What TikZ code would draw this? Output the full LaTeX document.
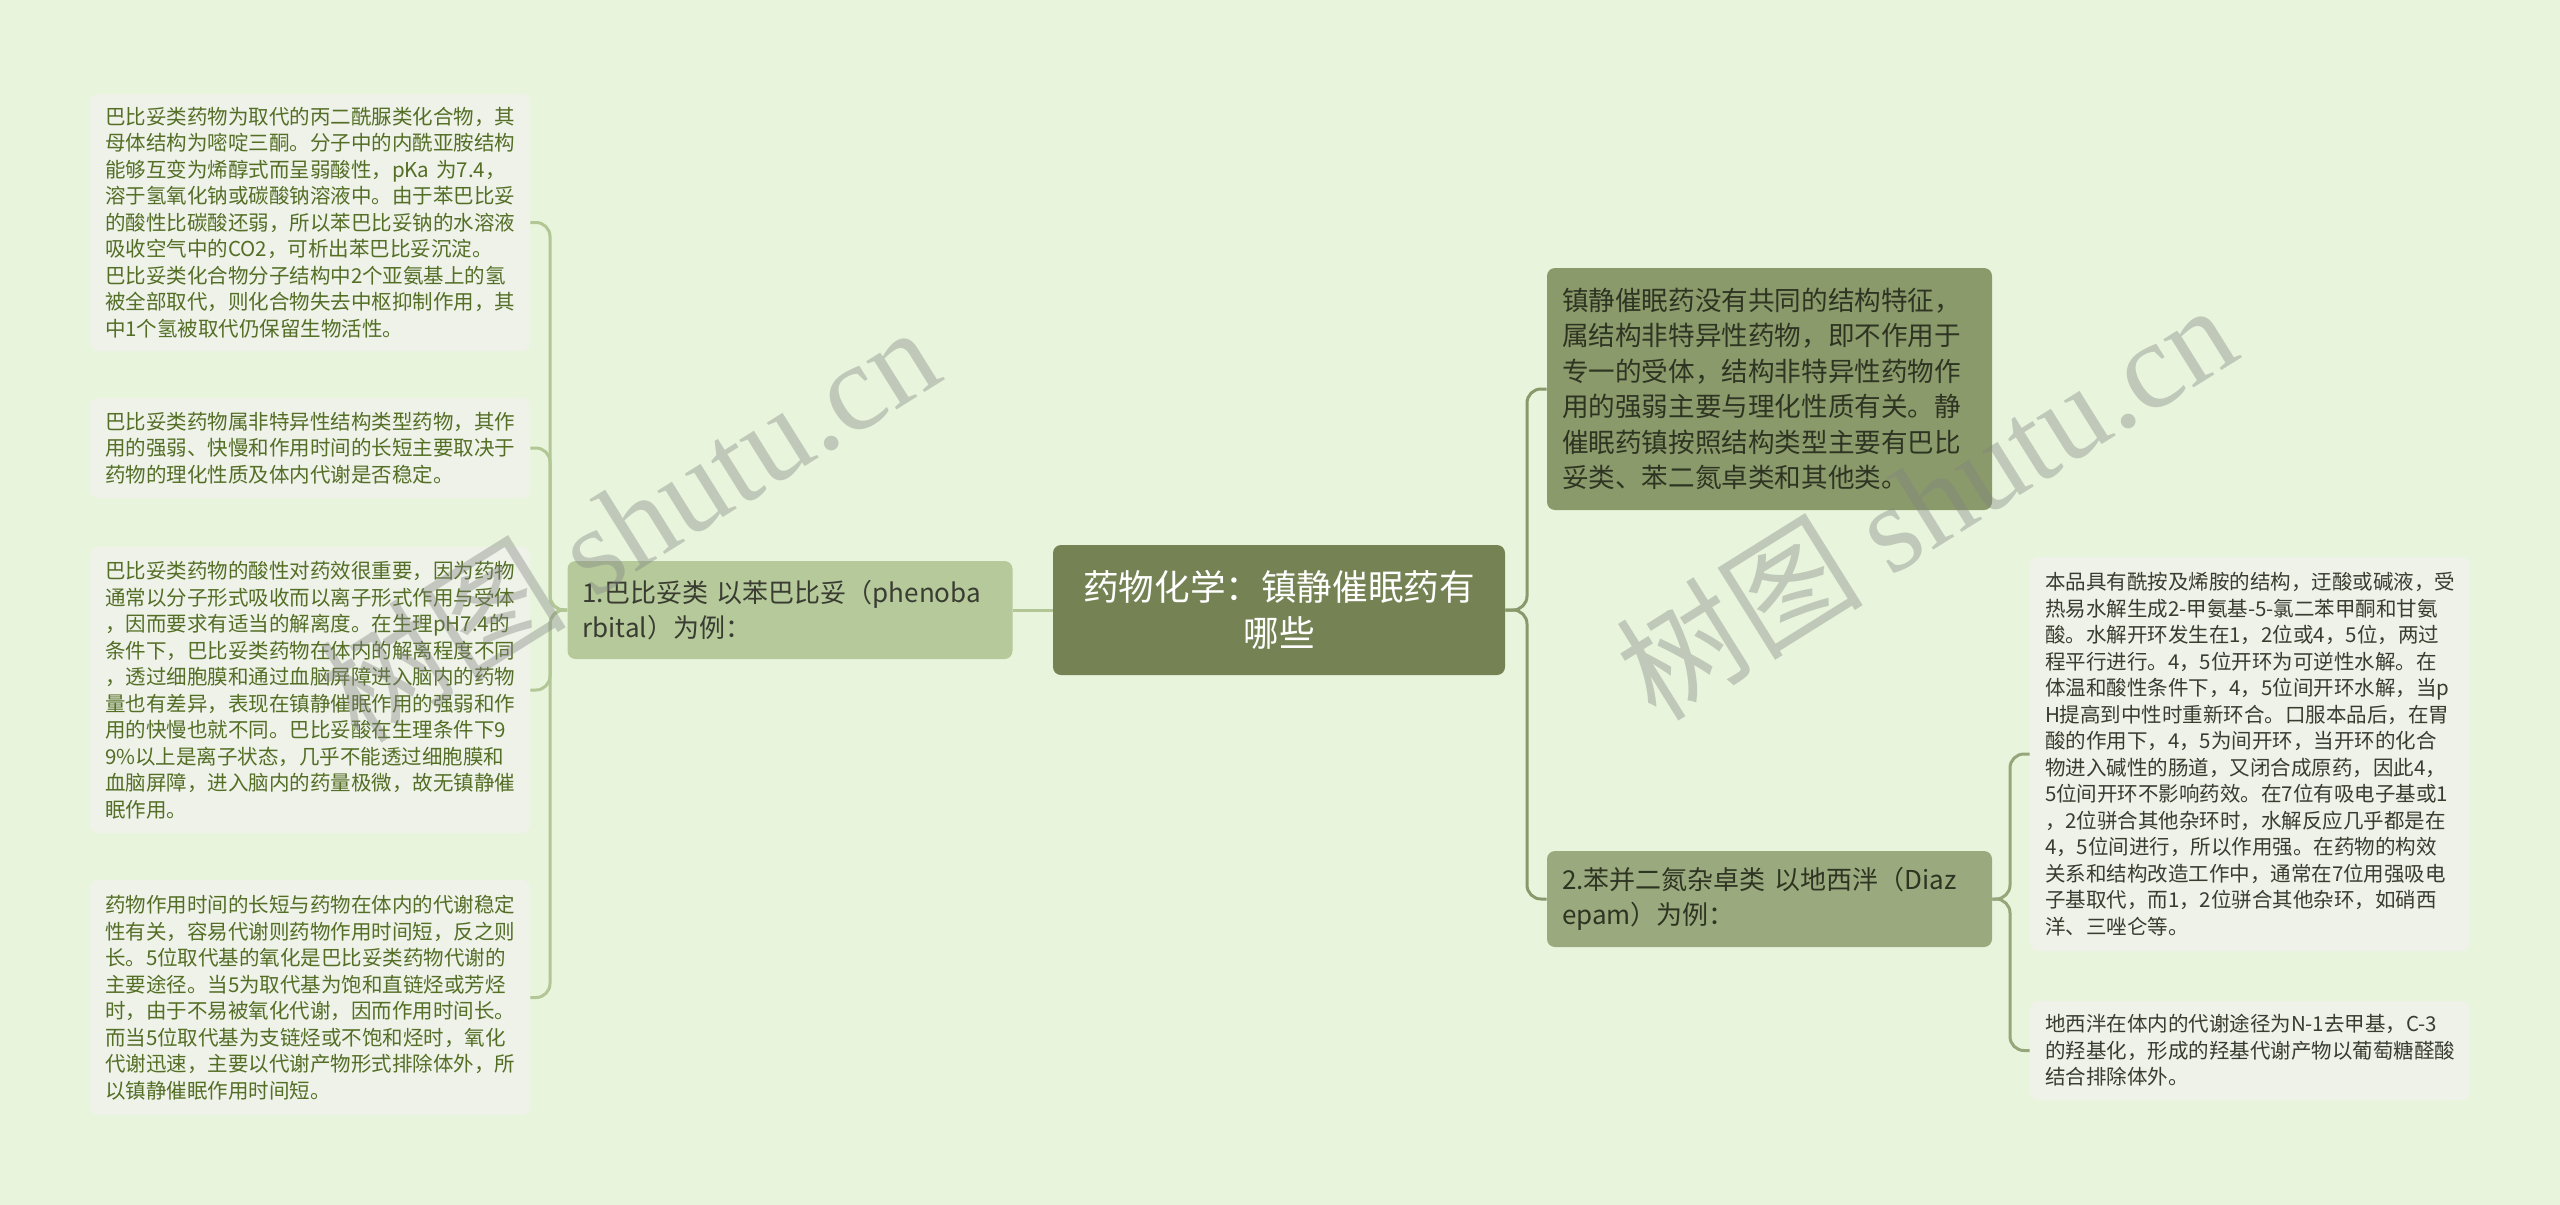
\documentclass[tikz,border=0pt]{standalone}
\usepackage{fontspec}
\setmainfont{Noto Sans CJK SC}
\newfontfamily\wmlat{Liberation Serif}
\definecolor{bgc}{RGB}{232,245,220}
\definecolor{leaffill}{RGB}{238,242,232}
\definecolor{lefttext}{RGB}{84,110,38}
\definecolor{righttext}{RGB}{58,60,48}
\definecolor{centerfill}{RGB}{116,130,84}
\definecolor{onefill}{RGB}{181,201,154}
\definecolor{trfill}{RGB}{139,154,107}
\definecolor{twofill}{RGB}{155,170,126}
\definecolor{darktext}{RGB}{46,52,34}
\definecolor{midtext}{RGB}{58,60,50}
\definecolor{leftline}{RGB}{178,198,150}
\definecolor{rightline}{RGB}{138,153,108}
\definecolor{twoline}{RGB}{150,166,122}
\tikzset{
  leaf/.style={fill=leaffill, rounded corners=4pt, text width=205pt, inner xsep=7.5pt, inner ysep=0pt, align=left, font=\fontsize{10.25pt}{13.25pt}\selectfont},
  leftleaf/.style={leaf, text=lefttext},
  rightleaf/.style={leaf, text=righttext},
  topic/.style={fill=centerfill, rounded corners=4pt, text=white, align=center, minimum width=226pt, minimum height=65pt, inner sep=0pt, font=\fontsize{17.8pt}{23pt}\selectfont},
  branch/.style={rounded corners=4pt, text width=207.5pt, inner xsep=7.5pt, inner ysep=0pt, align=left},
  conn/.style={line width=1.5pt, rounded corners=7pt},
  wm/.style={rotate=32, text=black!50, text opacity=0.38, inner sep=0pt}
}
\begin{document}
\begin{tikzpicture}[x=0.5pt,y=-0.5pt]
\fill[bgc] (0,0) rectangle (2560,1205);
\useasboundingbox (0,0) rectangle (2560,1205);

% center
\node[topic] (c) at (1279,610) {药物化学：镇静催眠药有\\哪些};

% branch 1
\node[branch, fill=onefill, text=midtext, minimum height=49pt, font=\fontsize{13pt}{17.75pt}\selectfont] (n1) at (790,610)
 {1.巴比妥类 以苯巴比妥（phenoba\\rbital）为例：};

% left leaves
\node[leftleaf, minimum height=128.5pt] (L1) at (310,222.5)
 {巴比妥类药物为取代的丙二酰脲类化合物，其\\母体结构为嘧啶三酮。分子中的内酰亚胺结构\\能够互变为烯醇式而呈弱酸性，pKa 为7.4，\\溶于氢氧化钠或碳酸钠溶液中。由于苯巴比妥\\的酸性比碳酸还弱，所以苯巴比妥钠的水溶液\\吸收空气中的CO2，可析出苯巴比妥沉淀。\\巴比妥类化合物分子结构中2个亚氨基上的氢\\被全部取代，则化合物失去中枢抑制作用，其\\中1个氢被取代仍保留生物活性。};
\node[leftleaf, minimum height=50pt] (L2) at (310,448)
 {巴比妥类药物属非特异性结构类型药物，其作\\用的强弱、快慢和作用时间的长短主要取决于\\药物的理化性质及体内代谢是否稳定。};
\node[leftleaf, minimum height=143pt] (L3) at (310,690)
 {巴比妥类药物的酸性对药效很重要，因为药物\\通常以分子形式吸收而以离子形式作用与受体\\，因而要求有适当的解离度。在生理pH7.4的\\条件下，巴比妥类药物在体内的解离程度不同\\，透过细胞膜和通过血脑屏障进入脑内的药物\\量也有差异，表现在镇静催眠作用的强弱和作\\用的快慢也就不同。巴比妥酸在生理条件下9\\9\%以上是离子状态，几乎不能透过细胞膜和\\血脑屏障，进入脑内的药量极微，故无镇静催\\眠作用。};
\node[leftleaf, minimum height=117.5pt] (L4) at (310,997.5)
 {药物作用时间的长短与药物在体内的代谢稳定\\性有关，容易代谢则药物作用时间短，反之则\\长。5位取代基的氧化是巴比妥类药物代谢的\\主要途径。当5为取代基为饱和直链烃或芳烃\\时，由于不易被氧化代谢，因而作用时间长。\\而当5位取代基为支链烃或不饱和烃时，氧化\\代谢迅速，主要以代谢产物形式排除体外，所\\以镇静催眠作用时间短。};

% right branches
\node[branch, fill=trfill, text=darktext, minimum height=121pt, font=\fontsize{13.3pt}{17.75pt}\selectfont] (tr) at (1769.5,389)
 {镇静催眠药没有共同的结构特征，\\属结构非特异性药物，即不作用于\\专一的受体，结构非特异性药物作\\用的强弱主要与理化性质有关。静\\催眠药镇按照结构类型主要有巴比\\妥类、苯二氮卓类和其他类。};
\node[branch, fill=twofill, text=darktext, minimum height=48pt, font=\fontsize{13pt}{17.75pt}\selectfont] (n2) at (1769.5,899)
 {2.苯并二氮杂卓类 以地西泮（Diaz\\epam）为例：};

% right leaves
\node[rightleaf, minimum height=197pt] (R1) at (2250,754)
 {本品具有酰按及烯胺的结构，迂酸或碱液，受\\热易水解生成2-甲氨基-5-氯二苯甲酮和甘氨\\酸。水解开环发生在1，2位或4，5位，两过\\程平行进行。4，5位开环为可逆性水解。在\\体温和酸性条件下，4，5位间开环水解，当p\\H提高到中性时重新环合。口服本品后，在胃\\酸的作用下，4，5为间开环，当开环的化合\\物进入碱性的肠道，又闭合成原药，因此4，\\5位间开环不影响药效。在7位有吸电子基或1\\，2位骈合其他杂环时，水解反应几乎都是在\\4，5位间进行，所以作用强。在药物的构效\\关系和结构改造工作中，通常在7位用强吸电\\子基取代，而1，2位骈合其他杂环，如硝西\\洋、三唑仑等。};
\node[rightleaf, minimum height=49.5pt] (R2) at (2250,1050.5)
 {地西泮在体内的代谢途径为N-1去甲基，C-3\\的羟基化，形成的羟基代谢产物以葡萄糖醛酸\\结合排除体外。};

% trunks
\coordinate (lt) at (550,610);
\coordinate (rt) at (1527,610);
\coordinate (r2t) at (2010,899);

% connectors
\draw[conn, leftline] (c.west) -- (n1.east);
\foreach \k in {L1,L2,L3,L4} \draw[conn, leftline] (n1.west) -- (lt) |- (\k.east);
\draw[conn, rightline] (c.east) -- (rt) |- (tr.west);
\draw[conn, rightline] (c.east) -- (rt) |- (n2.west);
\draw[conn, twoline] (n2.east) -- (r2t) |- (R1.west);
\draw[conn, twoline] (n2.east) -- (r2t) |- (R2.west);

% watermarks
\node[wm, font=\fontsize{62pt}{62pt}\selectfont] (wm1) at (628,522) {树图 {\wmlat shutu.cn}};
\node[wm, font=\fontsize{62pt}{62pt}\selectfont] (wm2) at (1925,500) {树图 {\wmlat shutu.cn}};
\end{tikzpicture}
\end{document}
